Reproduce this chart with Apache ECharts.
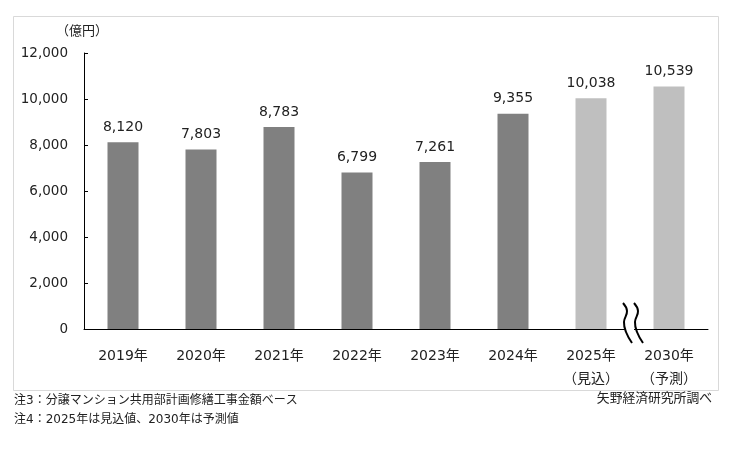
<!DOCTYPE html>
<html><head><meta charset="utf-8">
<script src="https://cdn.jsdelivr.net/npm/echarts@6/dist/echarts.min.js"></script>
<style>html,body{margin:0;padding:0;background:#fff}#c{width:734px;height:475px}</style>
</head><body><div id="c"></div>
<script>
const categories = ['2019年','2020年','2021年','2022年','2023年','2024年','2025年\n（見込）','2030年\n（予測）'];
const values = [8120, 7803, 8783, 6799, 7261, 9355, 10038, 10539];
const barKinds = ['actual','actual','actual','actual','actual','actual','estimate','forecast'];
const yTicks = {min: 0, max: 12000, interval: 2000};
const unitLabel = '（億円）';
const note3 = '注3：分譲マンション共用部計画修繕工事金額ベース';
const note4 = '注4：2025年は見込値、2030年は予測値';
const source = '矢野経済研究所調べ';

const FONT = '"DejaVu Sans","Noto Sans CJK JP",sans-serif';
const JP = '"Noto Sans CJK JP",sans-serif';
const colorOf = k => k === 'actual' ? '#808080' : '#BFBFBF';
const chart = echarts.init(document.getElementById('c'));
chart.setOption({
  animation: false,
  backgroundColor: '#fff',
  grid: {left: 84, right: 26, top: 53, bottom: 146, containLabel: false},
  xAxis: {
    type: 'category', data: categories,
    axisLine: {lineStyle: {color: '#000', width: 1}},
    axisTick: {inside: true, length: 4, lineStyle: {color: '#000'}},
    axisLabel: {color: '#222', fontSize: 14, fontFamily: FONT, margin: 16, lineHeight: 23}
  },
  yAxis: {
    type: 'value', min: yTicks.min, max: yTicks.max, interval: yTicks.interval,
    name: unitLabel, nameLocation: 'end', nameGap: 16,
    nameTextStyle: {color: '#222', fontSize: 13, fontFamily: JP, align: 'center', padding: [0, 0, 0, -4]},
    axisLine: {show: true, lineStyle: {color: '#000', width: 1}},
    axisTick: {show: true, inside: true, length: 4, lineStyle: {color: '#000'}},
    splitLine: {show: false},
    axisLabel: {color: '#222', fontSize: 13.5, fontFamily: FONT, margin: 16,
      formatter: v => v.toLocaleString('en-US')}
  },
  series: [{
    type: 'bar', barWidth: 31,
    data: values.map((v, i) => ({value: v, itemStyle: {color: colorOf(barKinds[i])}})),
    label: {show: true, position: 'top', distance: 8, color: '#222', fontSize: 14, fontFamily: FONT,
      formatter: p => p.value.toLocaleString('en-US')}
  }]
});

// Axis-break symbol between the last two categories, positioned from the axis scale
const p6 = chart.convertToPixel({xAxisIndex: 0}, categories[6]);
const p7 = chart.convertToPixel({xAxisIndex: 0}, categories[7]);
const y0 = chart.convertToPixel({yAxisIndex: 0}, 0);
const bx = (p6 + p7) / 2;
const wave = (dx) => ({
  type: 'polyline',
  shape: {smooth: 0.45, points: [
    [bx - 7 + dx, y0 - 26], [bx - 3 + dx, y0 - 18], [bx - 6 + dx, y0 - 7],
    [bx - 4 + dx, y0 + 3], [bx + 2 + dx, y0 + 14]
  ]},
  style: {fill: null, stroke: '#000', lineWidth: 2},
  z: 101
});
chart.setOption({
  graphic: [
    {type: 'rect', shape: {x: 13.5, y: 16.5, width: 705, height: 374},
      style: {fill: null, stroke: '#D9D9D9', lineWidth: 1}, z: 0, silent: true},
    {type: 'rect', shape: {x: bx - 5, y: y0 - 3, width: 9, height: 6}, style: {fill: '#fff'}, z: 100},
    wave(0), wave(11),
    {type: 'text', x: 14, y: 395, style: {text: note3, fill: '#222', fontSize: 12, fontFamily: FONT}},
    {type: 'text', x: 14, y: 414, style: {text: note4, fill: '#222', fontSize: 12, fontFamily: FONT}},
    {type: 'text', x: 712, y: 391, style: {text: source, fill: '#222', fontSize: 12.8, fontFamily: JP, align: 'right'}}
  ]
});
</script></body></html>
